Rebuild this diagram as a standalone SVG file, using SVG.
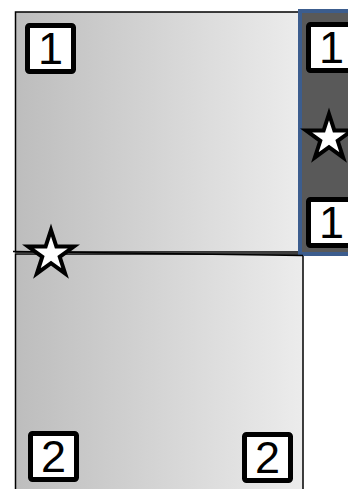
<svg xmlns="http://www.w3.org/2000/svg" width="348" height="489" viewBox="0 0 348 489">
  <defs>
    <linearGradient id="g" x1="0" y1="0" x2="1" y2="0">
      <stop offset="0" stop-color="#bdbdbd"/>
      <stop offset="1" stop-color="#ececec"/>
    </linearGradient>
    <path id="star" d="M0,-24 L5.39,-7.42 L22.83,-7.42 L8.72,2.83 L14.11,19.42 L0,9.17 L-14.11,19.42 L-8.72,2.83 L-22.83,-7.42 L-5.39,-7.42 Z"/>
  </defs>
  <style>
    .panel { fill: url(#g); stroke: #000; stroke-width: 1.5; }
    .lbl rect { fill: #fff; stroke: #000; stroke-width: 5; }
    .lbl text { font-family: "Liberation Sans", Arial, sans-serif; font-size: 45px; fill: #000; text-anchor: middle; }
    .star { fill: #fff; stroke: #000; stroke-width: 4; stroke-linejoin: miter; }
  </style>

  <g id="top-panel">
    <rect class="panel" x="15.5" y="12" width="287" height="240"/>
  </g>
  <g id="bottom-panel">
    <rect class="panel" x="15.5" y="254" width="287.5" height="245"/>
  </g>
  <g id="dark-panel">
    <rect x="300" y="11" width="60" height="243" fill="#595959" stroke="#3c5d8e" stroke-width="4"/>
  </g>

  <g id="connectors">
    <line x1="13" y1="251.5" x2="303" y2="255.5" stroke="#000" stroke-width="1.5"/>
  </g>

  <g id="label-1a" class="lbl">
    <rect x="27.5" y="25.5" width="46" height="46" rx="2"/>
    <text x="50.5" y="64">1</text>
  </g>
  <g id="label-1b" class="lbl">
    <rect x="308.5" y="24.5" width="46" height="46" rx="2"/>
    <text x="331.5" y="63">1</text>
  </g>
  <g id="label-1c" class="lbl">
    <rect x="308.5" y="199.5" width="46" height="46" rx="2"/>
    <text x="331.5" y="238">1</text>
  </g>
  <g id="label-2a" class="lbl">
    <rect x="30.5" y="433.5" width="46" height="46" rx="2"/>
    <text x="53.5" y="472">2</text>
  </g>
  <g id="label-2b" class="lbl">
    <rect x="244.5" y="434.5" width="46" height="46" rx="2"/>
    <text x="267.5" y="473">2</text>
  </g>

  <g id="star-a">
    <use href="#star" class="star" transform="translate(51,254)"/>
  </g>
  <g id="star-b">
    <use href="#star" class="star" transform="translate(329,138)"/>
  </g>
</svg>
